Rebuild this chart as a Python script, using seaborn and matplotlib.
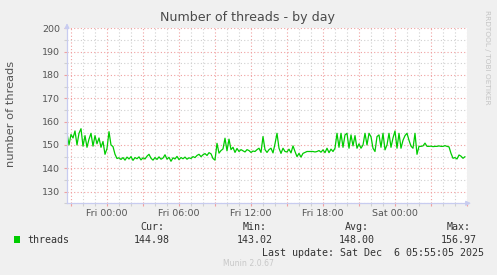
import numpy as np
import pandas as pd
import matplotlib
matplotlib.use('Agg')
import matplotlib.pyplot as plt
import matplotlib.dates as mdates
from matplotlib.ticker import MultipleLocator, FuncFormatter
from matplotlib.patches import Rectangle
import seaborn as sns

# ---------------- data ----------------
start = '2025-12-04 20:40'
threads = [
    155.0, 150.0, 154.5, 153.0, 156.0, 150.0, 155.0, 156.97, 149.5, 154.0,
    149.0, 152.5, 155.0, 149.5, 154.0, 150.5, 153.0, 149.0, 151.5, 146.0,
    148.5, 155.7, 150.0, 149.3, 146.0, 144.2, 144.5, 143.8, 144.6, 143.5,
    144.8, 144.0, 145.0, 143.4, 144.6, 144.1, 144.9, 143.6, 144.5, 144.0,
    145.2, 146.0, 144.3, 143.5, 144.6, 143.8, 144.9, 143.9, 144.4, 145.8,
    143.9, 144.7, 143.02, 144.5, 144.0, 145.1, 143.7, 144.6, 144.1, 144.8,
    143.9, 144.5, 144.2, 145.0, 144.6, 145.5, 146.0, 145.0, 145.8, 146.3,
    145.5, 146.7, 146.2, 144.2, 143.5, 150.7, 146.5, 147.6, 148.3, 152.9,
    147.5, 152.5, 148.0, 149.0, 146.8, 148.5, 147.2, 148.0, 147.5, 147.0,
    148.0, 147.6, 146.8, 147.4, 147.2, 148.0, 148.6, 146.8, 153.6, 148.0,
    146.8, 148.0, 148.6, 146.6, 150.5, 155.0, 148.6, 146.4, 148.6, 147.2,
    147.0, 148.2, 146.6, 149.6, 147.2, 145.0, 146.4, 144.8, 146.4, 146.8,
    147.2, 147.2, 147.2, 147.2, 147.0, 147.2, 147.6, 146.9, 147.9, 146.7,
    148.6, 146.7, 148.2, 147.2, 148.6, 155.0, 149.0, 155.0, 149.0, 154.3,
    155.0, 148.6, 154.3, 149.6, 154.0, 148.6, 150.5, 148.6, 150.0, 155.0,
    150.0, 155.0, 153.5, 148.6, 147.2, 153.6, 154.3, 149.0, 155.0, 147.9,
    150.0, 155.0, 149.0, 153.0, 156.0, 148.6, 155.0, 148.6, 152.0, 154.0,
    155.0, 152.0, 149.5, 148.6, 155.0, 146.0, 149.4, 149.4, 149.6, 150.8,
    149.4, 149.4, 149.5, 149.3, 149.4, 149.4, 149.6, 149.4, 149.4, 149.7,
    149.4, 149.2, 146.4, 144.3, 144.6, 144.0, 145.7, 145.2, 144.3, 144.98,
]
times = pd.date_range(start, periods=len(threads), freq='10min')

x_start = pd.Timestamp('2025-12-04 20:40')
x_end = pd.Timestamp('2025-12-06 06:00')
y_min, y_max = 125, 200

title = 'Number of threads - by day'
ylabel = 'number of threads'
series_name = 'threads'
stat_names = ['Cur:', 'Min:', 'Avg:', 'Max:']
stat_values = ['144.98', '143.02', '148.00', '156.97']
last_update = 'Last update: Sat Dec  6 05:55:05 2025'
footer = 'Munin 2.0.67'
watermark = 'RRDTOOL / TOBI OETIKER'

# ---------------- style ----------------
sns.set_style('white')
plt.rcParams['font.family'] = ['DejaVu Sans']

W, H = 497, 275
BG = '#F0F0F0'
LINE = '#00CC00'
MAJ = '#F0A0A0'
MIN = '#D0D0D0'
AXIS = '#C8CCF0'
TXT = '#555555'

def fx(px):
    return px / W

def fy(py):
    return 1 - py / H

fig = plt.figure(figsize=(W / 100, H / 100), dpi=100, facecolor=BG)
ax = fig.add_axes([fx(67), fy(203.3), 400 / W, 175 / H])
ax.set_facecolor('white')

df = pd.DataFrame({'time': times, 'threads': threads})
sns.lineplot(data=df, x='time', y='threads', ax=ax, color=LINE, linewidth=0.9)

ax.set_xlim(x_start, x_end)
ax.set_ylim(y_min, y_max)
ax.set_xlabel('')
ax.set_ylabel('')

ax.yaxis.set_major_locator(MultipleLocator(10))
ax.yaxis.set_minor_locator(MultipleLocator(5))
ax.xaxis.set_major_locator(mdates.HourLocator(byhour=range(0, 24, 3)))
ax.xaxis.set_minor_locator(mdates.HourLocator())

x_end_num = mdates.date2num(x_end)


def xfmt(v, pos):
    d = mdates.num2date(v)
    if d.hour % 6 != 0 or v >= x_end_num - 1e-6:
        return ''
    return d.strftime('%a %H:%M')


ax.xaxis.set_major_formatter(FuncFormatter(xfmt))
ax.yaxis.set_major_formatter(FuncFormatter(lambda v, p: f'{v:.0f}'))

ax.set_axisbelow(True)
ax.grid(which='major', color=MAJ, linestyle=(0, (1, 2)), linewidth=0.8)
ax.grid(which='minor', color=MIN, linestyle=(0, (1, 2)), linewidth=0.8)

ax.tick_params(which='major', direction='out', length=2, width=0.8, color=MAJ,
               labelsize=6.8, labelcolor=TXT)
ax.tick_params(which='minor', direction='out', length=2, width=0.8, color=MIN)
ax.tick_params(axis='y', which='both', pad=2.8, left=True)
ax.tick_params(axis='x', which='both', pad=1.8, bottom=True)

for s in ['top', 'right']:
    ax.spines[s].set_visible(False)
for s in ['left', 'bottom']:
    ax.spines[s].set_color(AXIS)
    ax.spines[s].set_linewidth(0.9)

# axis arrows
ax.annotate('', xy=(0, 1.045), xytext=(0, 0.99), xycoords='axes fraction',
            arrowprops=dict(arrowstyle='-|>', color=AXIS, lw=0.9, mutation_scale=7),
            annotation_clip=False)
ax.annotate('', xy=(1.017, 0), xytext=(0.99, 0), xycoords='axes fraction',
            arrowprops=dict(arrowstyle='-|>', color=AXIS, lw=0.9, mutation_scale=7),
            annotation_clip=False)

# titles
fig.text(fx(248), fy(18), title, ha='center', va='center', fontsize=9.1, color='#4a4a4a')
fig.text(fx(11), fy(114), ylabel, ha='center', va='center', rotation=90,
         fontsize=8.2, color=TXT)
fig.text(fx(487.5), fy(57), watermark, ha='center', va='center', rotation=270,
         fontsize=5.3, color='#C4C4C4')

# legend
mono = 'DejaVu Sans Mono'
LT = '#333333'
fig.patches.append(Rectangle((fx(14), fy(243)), 6 / W, 7 / H, transform=fig.transFigure,
                             facecolor=LINE, edgecolor='none'))
fig.text(fx(27), fy(240), series_name, ha='left', va='center', family=mono,
         fontsize=7.2, color=LT)
name_x = [140, 243, 345, 447]
val_x = [134, 237, 339, 441]
for nm, vl, nx, vx in zip(stat_names, stat_values, name_x, val_x):
    fig.text(fx(nx), fy(227.5), nm, ha='left', va='center', family=mono,
             fontsize=7.2, color=LT)
    fig.text(fx(vx), fy(240), vl, ha='left', va='center', family=mono,
             fontsize=7.2, color=LT)
fig.text(fx(262), fy(252.5), last_update, ha='left', va='center', family=mono,
         fontsize=7.2, color=LT)
fig.text(fx(248), fy(264), footer, ha='center', va='center', fontsize=5.6,
         color='#C8C8C8')

fig.savefig('out.png', dpi=100, facecolor=BG)
